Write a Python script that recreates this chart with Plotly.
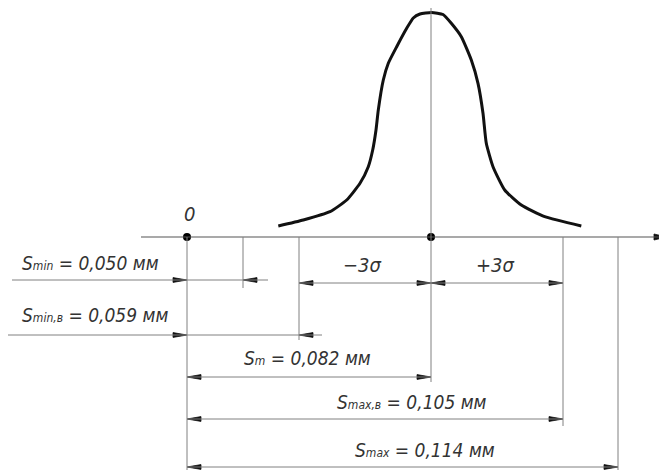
import plotly.graph_objects as go

# ---------------- data ----------------
dim_names = ["S<span style='font-size:12px'>min</span>",
             "S<span style='font-size:12px'>min,в</span>",
             "S<span style='font-size:12px'>m</span>",
             "S<span style='font-size:12px'>max,в</span>",
             "S<span style='font-size:12px'>max</span>"]
dim_values = [0.050, 0.059, 0.082, 0.105, 0.114]
unit = "мм"
sigma_labels = ["−3σ", "+3σ"]
origin_label = "0"

# bell curve (schematic coordinates)
curve_x = [278.3, 303.3, 330.0, 346.7, 360.0, 368.3, 372.7, 376.0, 378.3, 383.3,
           388.3, 396.7, 406.7, 413.3, 420.0, 431.5, 443.0, 451.3, 461.3, 471.3,
           478.0, 483.0, 486.3, 493.0, 504.7, 521.3, 544.7, 581.3]
curve_y = [226.0, 220.0, 211.7, 200.0, 183.3, 166.7, 150.0, 130.0, 110.0, 80.0,
           63.3, 46.7, 28.3, 18.0, 14.0, 12.5, 14.5, 23.3, 36.7, 60.0,
           83.3, 113.3, 143.3, 166.7, 190.0, 205.0, 216.7, 226.0]

# ---------------- schematic layout (positions) ----------------
X0 = 187          # origin
AXIS_Y = 237
ext_x = [243, 299, 431, 563, 618]          # extension line for each dimension
ext_bottom = [288, 340, 382, 426, 470]
ext_top = [AXIS_Y, AXIS_Y, 5, AXIS_Y, AXIS_Y]

LINE = "#808080"
TXT = "#333333"
FONT = "DejaVu Sans Condensed, Liberation Sans Narrow, Arial Narrow, Liberation Sans, sans-serif"

fig = go.Figure()
shapes = []

def hline(x1, x2, y, color=LINE, w=1):
    shapes.append(dict(type="line", xref="x", yref="y", x0=x1, x1=x2, y0=y, y1=y,
                       line=dict(color=color, width=w)))

def vline(x, y1, y2, color=LINE, w=1):
    shapes.append(dict(type="line", xref="x", yref="y", x0=x, x1=x, y0=y1, y1=y2,
                       line=dict(color=color, width=w)))

# main axis
hline(141, 660, AXIS_Y, "#555555", 1.2)
# extension lines
vline(X0, AXIS_Y, 470)
for x, t, b in zip(ext_x, ext_top, ext_bottom):
    vline(x, t, b)

ax_x, ax_y = [], []
def arrow(tip, y, d, L=14, h=2.4):
    ax_x.extend([tip, tip - d * L, tip - d * L, tip, None])
    ax_y.extend([y, y - h, y + h, y, None])

def fmt(i):
    return f"{dim_names[i]} = " + f"{dim_values[i]:.3f}".replace(".", ",") + f" {unit}"

# outer dimensions (Smin, Smin,в): arrows pointing inwards, lines extending outside
outer = [(0, 280, 12, 268, 263), (1, 335, 7, 322, 315)]
annotations = []
for i, y, xl, xr, ty in outer:
    hline(xl, xr, y)
    arrow(X0, y, 1)
    arrow(ext_x[i], y, -1)
    annotations.append(dict(x=20, y=ty, xanchor="left", yanchor="middle", text=fmt(i)))

# inner dimensions from origin
inner = [(2, 377, 307, 358), (3, 419, 412, 402), (4, 467, 425, 450)]
for i, y, tx, ty in inner:
    hline(X0, ext_x[i], y)
    arrow(X0, y, -1)
    arrow(ext_x[i], y, 1)
    annotations.append(dict(x=tx, y=ty, xanchor="center", yanchor="middle", text=fmt(i)))

# sigma dimensions
SY = 283
hline(ext_x[1], ext_x[3], SY)
arrow(ext_x[1], SY, -1)
arrow(ext_x[2], SY, 1)
arrow(ext_x[2], SY, -1)
arrow(ext_x[3], SY, 1)
annotations.append(dict(x=(ext_x[1] + ext_x[2]) / 2 - 3, y=265, xanchor="center", yanchor="middle",
                        text=sigma_labels[0], font=dict(size=20)))
annotations.append(dict(x=(ext_x[2] + ext_x[3]) / 2 - 2, y=265, xanchor="center", yanchor="middle",
                        text=sigma_labels[1], font=dict(size=20)))
# axis arrow
arrow(667, AXIS_Y, 1, L=13, h=3)

annotations.append(dict(x=189, y=214, xanchor="center", yanchor="middle",
                        text=origin_label, font=dict(size=20)))

for a in annotations:
    a.setdefault("font", dict(size=19))
    a["font"] = dict(family=FONT, color=TXT, style="italic", **a["font"])
    a.update(xref="x", yref="y", showarrow=False)

fig.add_trace(go.Scatter(x=ax_x, y=ax_y, mode="lines", fill="toself",
                         fillcolor="#111111", line=dict(color="#111111", width=0.8),
                         hoverinfo="skip"))

# bell curve
fig.add_trace(go.Scatter(x=curve_x, y=curve_y, mode="lines",
                         line=dict(color="#111111", width=3, shape="spline", smoothing=0.5),
                         hoverinfo="skip"))

# dots at origin and centre
fig.add_trace(go.Scatter(x=[X0, ext_x[2]], y=[AXIS_Y, AXIS_Y], mode="markers",
                         marker=dict(color="#000000", size=8), hoverinfo="skip"))

# the page body has an 8px margin: the figure is sized and ranged to compensate
fig.update_layout(
    width=659, height=462, margin=dict(l=0, r=0, t=0, b=0),
    paper_bgcolor="white", plot_bgcolor="white", showlegend=False,
    shapes=shapes, annotations=annotations,
    xaxis=dict(range=[8, 667], visible=False, fixedrange=True),
    yaxis=dict(range=[470, 8], visible=False, fixedrange=True),
)
fig.write_html("out.html")
